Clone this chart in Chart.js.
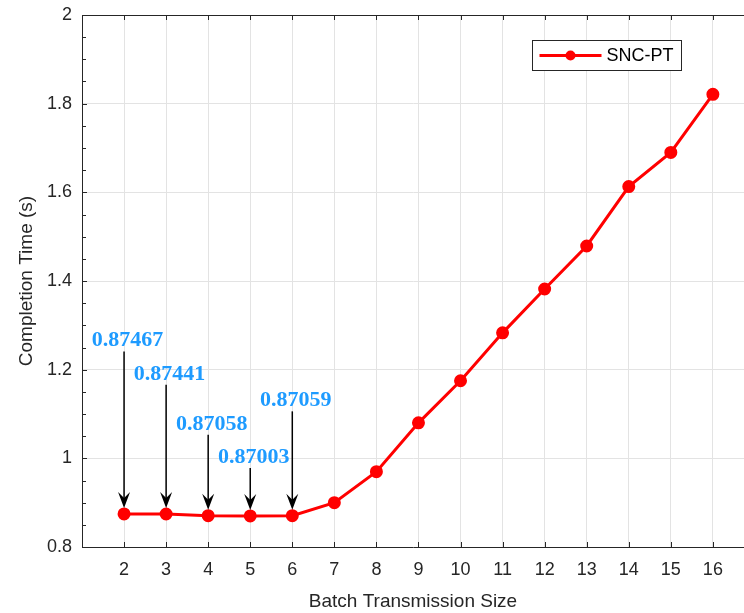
<!DOCTYPE html>
<html>
<head>
<meta charset="utf-8">
<script src="https://cdn.jsdelivr.net/npm/chart.js@4"></script>
<style>
  html, body { margin: 0; padding: 0; background: #fff; }
  #wrap { width: 744px; height: 613px; }
</style>
</head>
<body>
<div id="wrap"><canvas id="chart" width="744" height="613"></canvas></div>
<script>
// data
const batchSizes = [2, 3, 4, 5, 6, 7, 8, 9, 10, 11, 12, 13, 14, 15, 16];
const completionTime = [0.87467, 0.87441, 0.87058, 0.87003, 0.87059, 0.900, 0.970, 1.080, 1.175, 1.283, 1.382, 1.479, 1.613, 1.690, 1.821];
const xTicks = [2, 3, 4, 5, 6, 7, 8, 9, 10, 11, 12, 13, 14, 15, 16];
const yTicks = [0.8, 1, 1.2, 1.4, 1.6, 1.8, 2];

// annotated points (index into the series) and where their labels sit, in data units
const annotIndex = [0, 1, 2, 3, 4];
const annotTextY = [1.270, 1.194, 1.081, 1.006, 1.134];
const annotArrowTop = [1.241, 1.166, 1.053, 0.978, 1.106];

const AXIS_COLOR = '#262626';
const GRID_COLOR = '#e3e3e3';
const SANS = '"Liberation Sans", Arial, Helvetica, sans-serif';

const matlabAxes = {
	id: 'matlabAxes',
	afterDraw(chart) {
		const { ctx, chartArea: { left, right, top, bottom }, scales: { x, y } } = chart;
		ctx.save();
		ctx.strokeStyle = AXIS_COLOR;
		ctx.lineWidth = 1;

		// top box edge
		ctx.beginPath();
		ctx.moveTo(left, top + 0.5);
		ctx.lineTo(right, top + 0.5);
		ctx.stroke();

		// inward ticks on x (bottom + top)
		xTicks.forEach(v => {
			const px = Math.round(x.getPixelForValue(v)) + 0.5;
			ctx.beginPath();
			ctx.moveTo(px, bottom);
			ctx.lineTo(px, bottom - 5);
			ctx.moveTo(px, top);
			ctx.lineTo(px, top + 5);
			ctx.stroke();
		});

		// inward minor ticks on y (every 0.05)
		for (let i = 0; i <= 24; i++) {
			const v = 0.8 + i * 0.05;
			const py = Math.round(y.getPixelForValue(v)) + 0.5;
			ctx.beginPath();
			ctx.moveTo(left, py);
			ctx.lineTo(left + (i % 4 === 0 ? 5 : 4), py);
			ctx.stroke();
		}
		ctx.restore();
	}
};

const arrowLabels = {
	id: 'arrowLabels',
	afterDatasetsDraw(chart) {
		const { ctx, scales: { x, y } } = chart;
		ctx.save();
		annotIndex.forEach((idx, k) => {
			const px = x.getPixelForValue(batchSizes[idx]);
			const py = y.getPixelForValue(completionTime[idx]);
			const tipY = py - 6;
			const startY = y.getPixelForValue(annotArrowTop[k]);

			// shaft
			ctx.strokeStyle = '#000';
			ctx.lineWidth = 1.5;
			ctx.beginPath();
			ctx.moveTo(px, startY);
			ctx.lineTo(px, tipY - 8);
			ctx.stroke();

			// head
			ctx.fillStyle = '#000';
			ctx.beginPath();
			ctx.moveTo(px, tipY);
			ctx.lineTo(px - 6, tipY - 16);
			ctx.lineTo(px, tipY - 10);
			ctx.lineTo(px + 6, tipY - 16);
			ctx.closePath();
			ctx.fill();

			// label
			ctx.font = 'bold 22px "Liberation Serif", "Times New Roman", serif';
			ctx.fillStyle = '#1E9BFF';
			ctx.textAlign = 'center';
			ctx.textBaseline = 'middle';
			ctx.fillText(completionTime[idx].toFixed(5), px + 3.5, y.getPixelForValue(annotTextY[k]) + 1.5);
		});
		ctx.restore();
	}
};

const boxLegend = {
	id: 'boxLegend',
	afterDraw(chart) {
		const { ctx } = chart;
		const ds = chart.data.datasets[0];
		const bx = 532.5, by = 40.5, bw = 149, bh = 30;
		ctx.save();
		ctx.fillStyle = '#fff';
		ctx.fillRect(bx, by, bw, bh);
		ctx.strokeStyle = AXIS_COLOR;
		ctx.lineWidth = 1;
		ctx.strokeRect(bx, by, bw, bh);

		const cy = by + bh / 2;
		ctx.strokeStyle = ds.borderColor;
		ctx.lineWidth = 3;
		ctx.beginPath();
		ctx.moveTo(bx + 7, cy);
		ctx.lineTo(bx + 69, cy);
		ctx.stroke();
		ctx.fillStyle = ds.pointBackgroundColor;
		ctx.beginPath();
		ctx.arc(bx + 38, cy, 5, 0, Math.PI * 2);
		ctx.fill();

		ctx.fillStyle = '#000';
		ctx.font = '18px ' + SANS;
		ctx.textAlign = 'left';
		ctx.textBaseline = 'middle';
		ctx.fillText(ds.label, bx + 74, cy + 1);
		ctx.restore();
	}
};

new Chart(document.getElementById('chart').getContext('2d'), {
	type: 'line',
	data: {
		datasets: [{
			label: 'SNC-PT',
			data: batchSizes.map((b, i) => ({ x: b, y: completionTime[i] })),
			borderColor: '#ff0000',
			backgroundColor: '#ff0000',
			pointBackgroundColor: '#ff0000',
			pointBorderColor: '#ff0000',
			pointRadius: 5,
			borderWidth: 3,
			tension: 0
		}]
	},
	options: {
		responsive: false,
		animation: false,
		layout: { autoPadding: false, padding: { left: 0, right: 0, top: 15, bottom: 0 } },
		plugins: {
			legend: { display: false },
			tooltip: { enabled: false }
		},
		scales: {
			x: {
				type: 'linear',
				min: 1,
				max: 16.74,
				afterBuildTicks(scale) { scale.ticks = xTicks.map(v => ({ value: v })); },
				afterFit(scale) {
					scale.height = 66;
					scale.paddingLeft = 0;
					scale.paddingRight = 0;
				},
				grid: { color: GRID_COLOR, drawTicks: false },
				border: { color: AXIS_COLOR, width: 1 },
				ticks: {
					color: AXIS_COLOR,
					font: { family: SANS, size: 18 },
					padding: 12,
					maxRotation: 0,
					autoSkip: false
				},
				title: {
					display: true,
					text: 'Batch Transmission Size',
					color: AXIS_COLOR,
					font: { family: SANS, size: 19 },
					padding: { top: 2, bottom: 0 }
				}
			},
			y: {
				type: 'linear',
				min: 0.8,
				max: 2,
				afterBuildTicks(scale) { scale.ticks = yTicks.map(v => ({ value: v })); },
				afterFit(scale) {
					scale.width = 82;
					scale.paddingTop = 0;
					scale.paddingBottom = 0;
				},
				grid: { color: GRID_COLOR, drawTicks: false },
				border: { color: AXIS_COLOR, width: 1 },
				ticks: {
					color: AXIS_COLOR,
					font: { family: SANS, size: 18 },
					padding: 10,
					callback: v => String(Math.round(v * 10) / 10)
				},
				title: {
					display: true,
					text: 'Completion Time (s)',
					color: AXIS_COLOR,
					font: { family: SANS, size: 19 },
					padding: { top: 15, bottom: 0 }
				}
			}
		}
	},
	plugins: [matlabAxes, arrowLabels, boxLegend]
});
</script>
</body>
</html>
